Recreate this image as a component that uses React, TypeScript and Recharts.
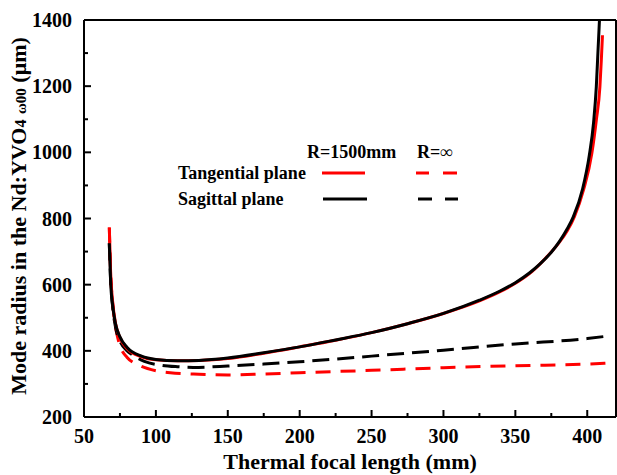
import { LineChart, Line, XAxis, YAxis, ReferenceLine } from 'recharts';

// thermal focal length (mm) -> mode radius (um)
const tangential1500 = [
    { f: 67.6, w: 773 }, { f: 68.5, w: 640 }, { f: 70, w: 545 }, { f: 72, w: 482 },
    { f: 75, w: 440 }, { f: 80, w: 406 }, { f: 90, w: 382 }, { f: 100, w: 373 },
    { f: 115, w: 370 }, { f: 130, w: 371 }, { f: 150, w: 377 }, { f: 175, w: 393 },
    { f: 200, w: 412 }, { f: 225, w: 432 }, { f: 250, w: 455 }, { f: 275, w: 482 },
    { f: 300, w: 513 }, { f: 325, w: 551 }, { f: 339, w: 578 }, { f: 350, w: 604 },
    { f: 360, w: 634 }, { f: 371, w: 680 }, { f: 380, w: 725 }, { f: 386, w: 762 },
    { f: 391, w: 805 }, { f: 397.5, w: 888 }, { f: 403.2, w: 997 }, { f: 406.3, w: 1097 },
    { f: 408.8, w: 1198 }, { f: 409.8, w: 1280 }, { f: 410.6, w: 1354 },
];
const sagittal1500 = [
    { f: 67.6, w: 725 }, { f: 68.5, w: 610 }, { f: 70, w: 535 }, { f: 72, w: 480 },
    { f: 75, w: 442 }, { f: 80, w: 410 }, { f: 90, w: 384 }, { f: 100, w: 374 },
    { f: 115, w: 370 }, { f: 130, w: 371 }, { f: 150, w: 378 }, { f: 175, w: 394 },
    { f: 200, w: 412 }, { f: 225, w: 433 }, { f: 250, w: 455 }, { f: 275, w: 482 },
    { f: 300, w: 513 }, { f: 325, w: 553 }, { f: 339, w: 580 }, { f: 350, w: 606 },
    { f: 360, w: 636 }, { f: 367, w: 662 }, { f: 375, w: 698 }, { f: 380.6, w: 730 },
    { f: 386, w: 768 }, { f: 390.3, w: 805 }, { f: 396.8, w: 890 }, { f: 401.4, w: 990 },
    { f: 404.4, w: 1090 }, { f: 406.3, w: 1198 }, { f: 407.4, w: 1299 }, { f: 408.5, w: 1400 },
];
const tangentialInf = [
    { f: 67.6, w: 773 }, { f: 68.5, w: 640 }, { f: 70, w: 540 }, { f: 72, w: 470 },
    { f: 74, w: 430 }, { f: 76, w: 405 }, { f: 80, w: 380 }, { f: 89, w: 355 },
    { f: 100, w: 340 }, { f: 110, w: 334 }, { f: 130, w: 329 }, { f: 150, w: 327 },
    { f: 175, w: 330 }, { f: 200, w: 334 }, { f: 250, w: 341 }, { f: 300, w: 349 },
    { f: 350, w: 355 }, { f: 400, w: 360 }, { f: 415, w: 363 },
];
const sagittalInf = [
    { f: 67.6, w: 725 }, { f: 68.5, w: 615 }, { f: 70, w: 530 }, { f: 72, w: 470 },
    { f: 75, w: 430 }, { f: 80, w: 400 }, { f: 84, w: 387 }, { f: 92, w: 368 },
    { f: 103, w: 357 }, { f: 115, w: 352 }, { f: 126, w: 350 }, { f: 150, w: 354 },
    { f: 175, w: 360 }, { f: 200, w: 367 }, { f: 250, w: 384 }, { f: 300, w: 402 },
    { f: 350, w: 421 }, { f: 400, w: 437 }, { f: 413, w: 444 },
];

const xTicks = [50, 75, 100, 125, 150, 175, 200, 225, 250, 275, 300, 325, 350, 375, 400];
const yTicks = [200, 300, 400, 500, 600, 700, 800, 900, 1000, 1100, 1200, 1300, 1400];

const FONT = '"Liberation Serif", "Times New Roman", serif';
const TICK_GAP = 12;

const XTick = (props: any) => {
    const { x, y, payload } = props;
    const major = payload.value % 50 === 0;
    const y0 = y - TICK_GAP;
    return (
        <g>
            <line x1={x} x2={x} y1={y0} y2={y0 - (major ? 7 : 4)} stroke="#000" strokeWidth={2} />
            {major && (
                <text x={x} y={y} dy="0.71em" textAnchor="middle" fontFamily={FONT}
                    fontWeight="bold" fontSize={20} fill="#000">{payload.value}</text>
            )}
        </g>
    );
};

const YTick = (props: any) => {
    const { x, y, payload } = props;
    const major = payload.value % 200 === 0;
    const x0 = x + TICK_GAP;
    return (
        <g>
            <line x1={x0} x2={x0 + (major ? 7 : 4)} y1={y} y2={y} stroke="#000" strokeWidth={2} />
            {major && (
                <text x={x} y={y} dy="0.35em" textAnchor="end" fontFamily={FONT}
                    fontWeight="bold" fontSize={20} fill="#000">{payload.value}</text>
            )}
        </g>
    );
};

export default function App() {
    return (
        <div style={{ position: 'absolute', left: 0, top: 0, width: 617, height: 475, background: '#fff' }}>
            <LineChart width={617} height={475} margin={{ top: 20, right: 1, bottom: 0, left: 0 }}>
                <XAxis type="number" dataKey="f" domain={[50, 420]} ticks={xTicks} allowDataOverflow
                    tickSize={0} tickMargin={TICK_GAP} tick={<XTick />} height={58}
                    axisLine={{ stroke: '#000', strokeWidth: 2 }} interval={0} />
                <YAxis type="number" dataKey="w" domain={[200, 1400]} ticks={yTicks} allowDataOverflow
                    tickSize={0} tickMargin={TICK_GAP} tick={<YTick />} width={84}
                    axisLine={{ stroke: '#000', strokeWidth: 2 }} interval={0} />
                <ReferenceLine y={1400} stroke="#000" strokeWidth={2} />
                <ReferenceLine x={420} stroke="#000" strokeWidth={2} />
                <Line data={tangentialInf} dataKey="w" type="monotone" stroke="#ff0000" strokeWidth={3}
                    strokeDasharray="15 10" dot={false} isAnimationActive={false} />
                <Line data={sagittalInf} dataKey="w" type="monotone" stroke="#000" strokeWidth={3}
                    strokeDasharray="17 8" dot={false} isAnimationActive={false} />
                <Line data={tangential1500} dataKey="w" type="monotone" stroke="#ff0000" strokeWidth={3}
                    dot={false} isAnimationActive={false} />
                <Line data={sagittal1500} dataKey="w" type="monotone" stroke="#000" strokeWidth={3}
                    dot={false} isAnimationActive={false} />
            </LineChart>
            <svg width={617} height={475} style={{ position: 'absolute', left: 0, top: 0, pointerEvents: 'none' }}
                fontFamily={FONT} fontWeight="bold" fill="#000">
                <text x={350} y={469} textAnchor="middle" fontSize={22}>Thermal focal length (mm)</text>
                <text transform="translate(26,216) rotate(-90)" textAnchor="middle" fontSize={22}>
                    Mode radius in the Nd:YVO<tspan fontSize={16}>4</tspan> <tspan fontSize={15}>ω00</tspan> (μm)
                </text>
                <text x={307} y={158} fontSize={18}>R=1500mm</text>
                <text x={417} y={158} fontSize={18}>R=∞</text>
                <text x={178} y={179} fontSize={18}>Tangential plane</text>
                <text x={178} y={205} fontSize={18}>Sagittal plane</text>
                <line x1={322} x2={365} y1={173} y2={173} stroke="#ff0000" strokeWidth={3} />
                <line x1={416} x2={429} y1={173} y2={173} stroke="#ff0000" strokeWidth={3} />
                <line x1={443} x2={457} y1={173} y2={173} stroke="#ff0000" strokeWidth={3} />
                <line x1={323} x2={367} y1={199} y2={199} stroke="#000" strokeWidth={3} />
                <line x1={418} x2={432} y1={199} y2={199} stroke="#000" strokeWidth={3} />
                <line x1={445} x2={458} y1={199} y2={199} stroke="#000" strokeWidth={3} />
            </svg>
        </div>
    );
}
